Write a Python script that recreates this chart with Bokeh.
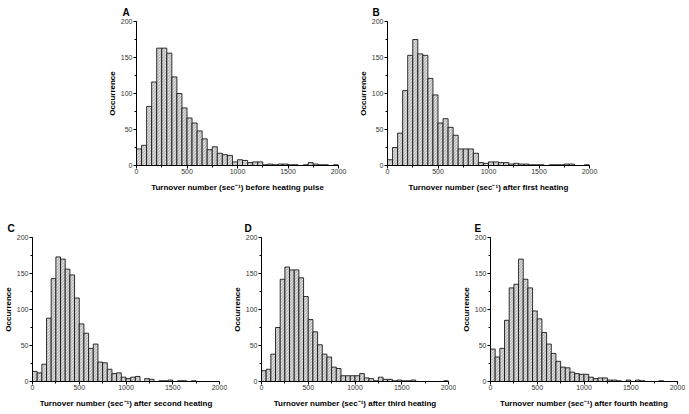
from bokeh.plotting import figure
from bokeh.layouts import column, row
from bokeh.models import SingleIntervalTicker, Range1d, ColumnDataSource
from bokeh.embed import file_html
from bokeh.resources import INLINE

# Histogram bins (sec^-1), width 50, from 0 to 2000
bin_width = 50
bin_left = list(range(0, 2000, bin_width))

counts_A = [23, 28, 82, 116, 163, 163, 156, 123, 100, 80, 66, 59, 48, 37, 22, 26, 17, 15, 14, 5,
            8, 7, 4, 5, 5, 1, 2, 1, 2, 2, 1, 1, 0, 1, 4, 2, 1, 1, 0, 1]
counts_B = [8, 25, 45, 104, 153, 175, 155, 153, 121, 98, 59, 65, 53, 42, 23, 23, 23, 17, 4, 3,
            5, 5, 4, 4, 2, 3, 2, 2, 1, 1, 1, 0, 1, 1, 1, 2, 2, 0, 0, 1]
counts_C = [14, 12, 24, 88, 143, 173, 170, 156, 148, 116, 80, 67, 46, 52, 27, 26, 17, 11, 12, 6,
            4, 6, 7, 0, 4, 3, 0, 1, 1, 2, 0, 1, 1, 0, 1, 0, 0, 0, 0, 0]
counts_D = [15, 17, 38, 75, 142, 159, 155, 155, 144, 118, 86, 69, 51, 38, 34, 20, 18, 8, 8, 8,
            8, 11, 5, 4, 1, 6, 3, 3, 1, 2, 1, 1, 2, 0, 0, 0, 0, 0, 0, 1]
counts_E = [45, 34, 46, 85, 130, 135, 170, 142, 130, 98, 87, 68, 52, 39, 28, 20, 19, 13, 11, 10,
            10, 6, 4, 5, 5, 2, 2, 1, 0, 2, 0, 2, 1, 0, 0, 0, 1, 0, 0, 0]

panel_letters = ["A", "B", "C", "D", "E"]
x_labels = [
    "Turnover number (sec\u207b\u00b9) before heating pulse",
    "Turnover number (sec\u207b\u00b9) after first heating",
    "Turnover number (sec\u207b\u00b9) after second heating",
    "Turnover number (sec\u207b\u00b9) after third heating",
    "Turnover number (sec\u207b\u00b9) after fourth heating",
]
y_label = "Occurrence"
x_tick_interval = 500
y_tick_interval = 50

FONT = "Liberation Sans"


def make_panel(letter, counts, xlabel, fw, fh, bl, br, bt, bb, toff):
    p = figure(frame_width=fw, frame_height=fh,
               x_range=Range1d(0, 2000), y_range=Range1d(0, 200),
               output_backend="svg", toolbar_location=None,
               min_border_left=bl, min_border_right=br,
               min_border_top=bt, min_border_bottom=bb,
               title=letter)
    src = ColumnDataSource(dict(left=bin_left,
                                right=[l + bin_width for l in bin_left],
                                top=counts))
    p.quad(left="left", right="right", bottom=0, top="top", source=src,
           fill_color="white", line_color="black", line_width=0.8,
           hatch_pattern="left_diagonal_line", hatch_color="#707070",
           hatch_scale=3, hatch_weight=0.6)
    p.xaxis.ticker = SingleIntervalTicker(interval=x_tick_interval, num_minor_ticks=2)
    p.yaxis.ticker = SingleIntervalTicker(interval=y_tick_interval, num_minor_ticks=2)
    for ax in (p.xaxis[0], p.yaxis[0]):
        ax.major_tick_out = 3
        ax.major_tick_in = 0
        ax.minor_tick_out = 2
        ax.minor_tick_in = 0
        ax.axis_line_color = "black"
        ax.axis_line_width = 1
        ax.major_tick_line_color = "black"
        ax.minor_tick_line_color = "black"
        ax.major_label_text_font = FONT
        ax.major_label_text_font_size = "7px"
        ax.major_label_text_color = "#333333"
        ax.axis_label_text_font = FONT
        ax.axis_label_text_font_size = "8px"
        ax.axis_label_text_font_style = "bold"
        ax.axis_label_text_color = "black"
    p.xaxis.axis_label = xlabel
    p.yaxis.axis_label = y_label
    p.xaxis.major_label_standoff = 0
    p.xaxis.axis_label_standoff = 6
    p.yaxis.major_label_standoff = 1
    p.yaxis.axis_label_standoff = 1
    p.grid.visible = False
    p.outline_line_color = None
    p.title.text_font = FONT
    p.title.text_font_size = "10px"
    p.title.text_font_style = "bold"
    p.title.text_color = "black"
    p.title.align = "left"
    p.title.offset = toff
    p.title.standoff = 8
    return p


pA = make_panel(panel_letters[0], counts_A, x_labels[0], 202, 144, 136, 10, 21, 31, -14)
pB = make_panel(panel_letters[1], counts_B, x_labels[1], 202, 144, 39, 10, 21, 31, -15)
pC = make_panel(panel_letters[2], counts_C, x_labels[2], 187, 144, 32, 8, 41, 31, -25)
pD = make_panel(panel_letters[3], counts_D, x_labels[3], 187, 144, 34, 8, 41, 31, -17)
pE = make_panel(panel_letters[4], counts_E, x_labels[4], 187, 144, 34, 8, 41, 31, -16)

layout = column(row(pA, pB), row(pC, pD, pE))

open("out.html", "w").write(file_html(layout, INLINE))
